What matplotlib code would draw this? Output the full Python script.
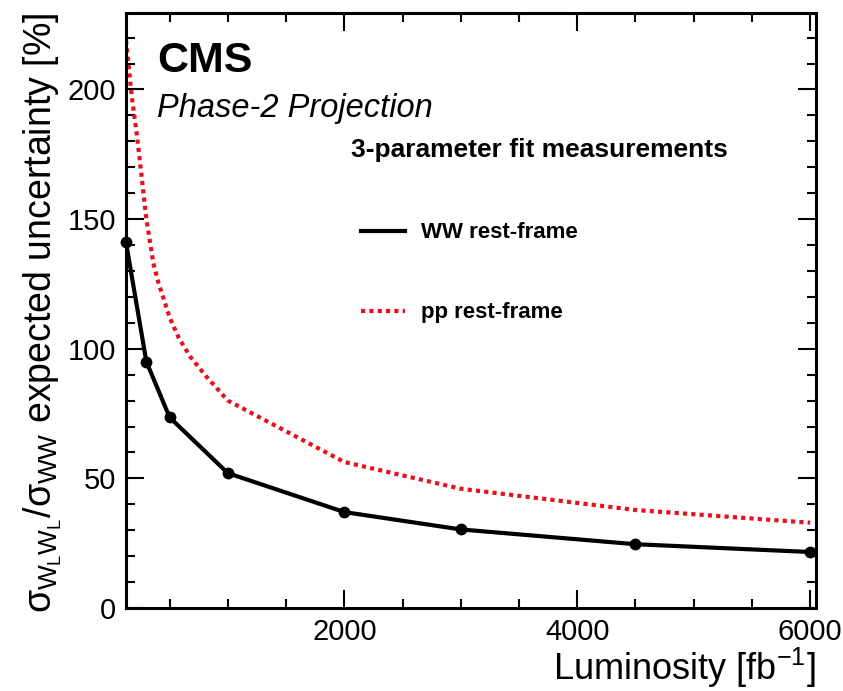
import matplotlib
matplotlib.use("Agg")
import matplotlib.pyplot as plt
from matplotlib.ticker import MultipleLocator

plt.rcParams['font.family'] = ['Liberation Sans', 'DejaVu Sans']
plt.rcParams['mathtext.fontset'] = 'custom'
plt.rcParams['mathtext.rm'] = 'Liberation Sans'
plt.rcParams['mathtext.it'] = 'Liberation Sans'
plt.rcParams['mathtext.bf'] = 'Liberation Sans:bold'

# Expected uncertainty vs integrated luminosity
lumi_ww = [125, 300, 500, 1000, 2000, 3000, 4500, 6000]
unc_ww = [141, 95, 73.5, 52, 37, 30.3, 24.6, 21.6]

lumi_pp = [125, 175, 220, 260, 300, 360, 400, 450, 500, 575, 675, 820, 1000,
           2000, 3000, 4500, 6000]
unc_pp = [219, 197, 182, 166, 150, 133, 126, 119, 112, 104.5, 97, 89, 80,
          56.3, 46, 37.8, 32.9]

label_ww = "WW rest-frame"
label_pp = "pp rest-frame"
header = "3-parameter fit measurements"

fig = plt.figure(figsize=(8.43, 6.91), dpi=100)
ax = fig.add_axes([126 / 843, 83 / 691, 690 / 843, 595 / 691])

ax.plot(lumi_pp, unc_pp, color="#e8101c", lw=3.0, linestyle=(0, (1, 1.0)),
        dash_capstyle="butt", label=label_pp, zorder=2)
ax.plot(lumi_ww, unc_ww, color="black", lw=3.0, marker="o", markersize=7.5,
        label=label_ww, zorder=3, clip_on=False)

ax.set_xlim(125, 6050)
ax.set_ylim(0, 229.5)
ax.xaxis.set_major_locator(MultipleLocator(2000))
ax.xaxis.set_minor_locator(MultipleLocator(500))
ax.yaxis.set_major_locator(MultipleLocator(50))
ax.yaxis.set_minor_locator(MultipleLocator(10))

ax.tick_params(which="both", direction="in", top=True, right=True, width=1.5,
               labelsize=21)
ax.tick_params(which="major", length=13, pad=7)
ax.tick_params(which="minor", length=6.5)
for sp in ax.spines.values():
    sp.set_linewidth(2.2)

ax.set_xlabel(r"Luminosity [fb$^{-1}$]", fontsize=26, loc="right", labelpad=0)
ax.set_ylabel(r"$\sigma_{W_{L}W_{L}}/\sigma_{WW}$ expected uncertainty [%]",
              fontsize=27, loc="top", labelpad=3)

ax.text(0.045, 0.9008, "CMS", transform=ax.transAxes, fontsize=31,
        fontweight="bold", va="baseline", ha="left")
ax.text(0.045, 0.825, "Phase-2 Projection", transform=ax.transAxes,
        fontsize=23.5, fontstyle="italic", va="baseline", ha="left")
ax.text(0.326, 0.758, header, transform=ax.transAxes, fontsize=19,
        fontweight="bold", va="baseline", ha="left")

handles, labels = ax.get_legend_handles_labels()
order = [1, 0]
leg = ax.legend([handles[i] for i in order], [labels[i] for i in order],
                loc="upper left", bbox_to_anchor=(0.3406, 0.648),
                frameon=False, prop={"weight": "bold", "size": 16},
                handlelength=2.0, handletextpad=0.7, labelspacing=2.65,
                borderpad=0, borderaxespad=0)
for h in leg.legend_handles:
    h.set_marker("")

fig.savefig("out.png", dpi=100)
